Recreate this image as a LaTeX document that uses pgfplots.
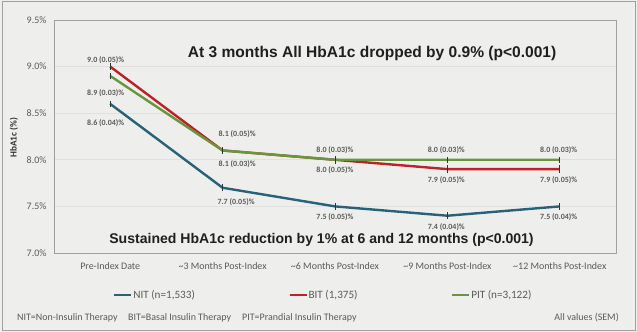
\documentclass[border=0pt]{standalone}
\usepackage{pgfplots}
\pgfplotsset{compat=1.18}
\usepackage{fontspec}
\setmainfont{Carlito}
\newfontfamily\arialfont{Liberation Sans}
\definecolor{bg}{RGB}{238,239,236}
\definecolor{nit}{RGB}{40,98,122}
\definecolor{bit}{RGB}{192,32,38}
\definecolor{pit}{RGB}{104,150,62}
\definecolor{txt}{RGB}{90,90,90}
\definecolor{frame}{RGB}{160,160,160}
\begin{document}
\begin{tikzpicture}
\fill[bg] (0,0) rectangle (637bp,332bp);
\draw[frame, line width=1bp] (2bp,1.5bp) rectangle (635bp,330bp);
\path[use as bounding box] (0,0) rectangle (637bp,332bp);
\begin{axis}[
  at={(54bp,79bp)}, anchor=south west,
  scale only axis, width=562bp, height=233bp,
  xmin=-0.5, xmax=4.5, ymin=7, ymax=9.5,
  xtick={0,1,2,3,4},
  xticklabels={Pre-Index Date,{\textasciitilde3 Months Post-Index},{\textasciitilde6 Months Post-Index},{\textasciitilde9 Months Post-Index},{\textasciitilde12 Months Post-Index}},
  ytick={7,7.5,8,8.5,9,9.5},
  yticklabels={7.0\%,7.5\%,8.0\%,8.5\%,9.0\%,9.5\%},
  major tick length=0pt,
  tick label style={font=\fontsize{10}{12}\selectfont, text=txt},
  xticklabel style={yshift=-6bp},
  yticklabel style={xshift=-4bp},
  axis line style={draw=frame, line width=0.8bp},
  ymajorgrids, grid style={draw=black!12, line width=0.6bp},
  ylabel={\bfseries HbA1c (\%)},
  ylabel style={font=\fontsize{9.3}{11}\selectfont, text=black!80, at={(axis description cs:-0.0715,0.494)}, anchor=center},
  clip=false,
  legend columns=3,
  legend style={at={(axis description cs:0.478,-0.18)}, anchor=center, draw=none, fill=none,
    font=\fontsize{11.2}{13}\selectfont, text=txt,
    nodes={inner sep=0.6bp},
    /tikz/every even column/.append style={column sep=93bp}},
  legend image code/.code={\draw[#1, line width=2.5bp] (0bp,0bp) -- (17bp,0bp);},
  error bars/y dir=both, error bars/y explicit,
  error bars/error bar style={line width=1bp, black!80},
  error bars/error mark=none,
]
\addplot[nit, line width=2.4bp, mark=none] coordinates {
  (0,8.6) +- (0,0.035)
  (1,7.7) +- (0,0.04)
  (2,7.5) +- (0,0.04)
  (3,7.4) +- (0,0.035)
  (4,7.5) +- (0,0.035)
};
\addlegendentry{NIT (n=1,533)}
\addplot[bit, line width=2.4bp, mark=none] coordinates {
  (0,9.0) +- (0,0.04)
  (1,8.1) +- (0,0.04)
  (2,8.0) +- (0,0.04)
  (3,7.9) +- (0,0.04)
  (4,7.9) +- (0,0.04)
};
\addlegendentry{BIT (1,375)}
\addplot[pit, line width=2.4bp, mark=none] coordinates {
  (0,8.9) +- (0,0.03)
  (1,8.1) +- (0,0.03)
  (2,8.0) +- (0,0.03)
  (3,8.0) +- (0,0.03)
  (4,8.0) +- (0,0.03)
};
\addlegendentry{PIT (n=3,122)}
% data labels
\tikzset{lab/.style={font=\bfseries\fontsize{8}{10}\selectfont, text=txt, inner sep=0pt}}
\node[lab] at (axis cs:-0.04,9.07) {9.0 (0.05)\%};
\node[lab] at (axis cs:-0.04,8.72) {8.9 (0.03)\%};
\node[lab] at (axis cs:-0.04,8.39) {8.6 (0.04)\%};
\node[lab] at (axis cs:1.13,8.27) {8.1 (0.05)\%};
\node[lab] at (axis cs:1.13,7.95) {8.1 (0.03)\%};
\node[lab] at (axis cs:1.12,7.55) {7.7 (0.05)\%};
\node[lab] at (axis cs:2,8.105) {8.0 (0.03)\%};
\node[lab] at (axis cs:2,7.89) {8.0 (0.05)\%};
\node[lab] at (axis cs:2,7.386) {7.5 (0.05)\%};
\node[lab] at (axis cs:2.99,8.105) {8.0 (0.03)\%};
\node[lab] at (axis cs:2.99,7.78) {7.9 (0.05)\%};
\node[lab] at (axis cs:2.99,7.28) {7.4 (0.04)\%};
\node[lab] at (axis cs:3.99,8.105) {8.0 (0.03)\%};
\node[lab] at (axis cs:3.99,7.78) {7.9 (0.05)\%};
\node[lab] at (axis cs:3.99,7.386) {7.5 (0.04)\%};
% annotations
\node[font=\arialfont\bfseries\fontsize{15.6}{18}\selectfont, text=black!88] at (axis cs:2.33,9.146) {At 3 months All HbA1c dropped by 0.9\% (p<0.001)};
\node[font=\arialfont\bfseries\fontsize{14.1}{17}\selectfont, text=black!88] at (axis cs:1.88,7.14) {Sustained HbA1c reduction by 1\% at 6 and 12 months (p<0.001)};
\end{axis}
\node[anchor=west, font=\fontsize{10}{12}\selectfont, text=txt, inner sep=0pt] at (17bp,14bp) {NIT=Non-Insulin Therapy};
\node[anchor=west, font=\fontsize{10}{12}\selectfont, text=txt, inner sep=0pt] at (128bp,14bp) {BIT=Basal Insulin Therapy};
\node[anchor=west, font=\fontsize{10}{12}\selectfont, text=txt, inner sep=0pt] at (242bp,14bp) {PIT=Prandial Insulin Therapy};
\node[anchor=east, font=\fontsize{10}{12}\selectfont, text=txt, inner sep=0pt] at (619bp,14bp) {All values (SEM)};
\end{tikzpicture}
\end{document}
